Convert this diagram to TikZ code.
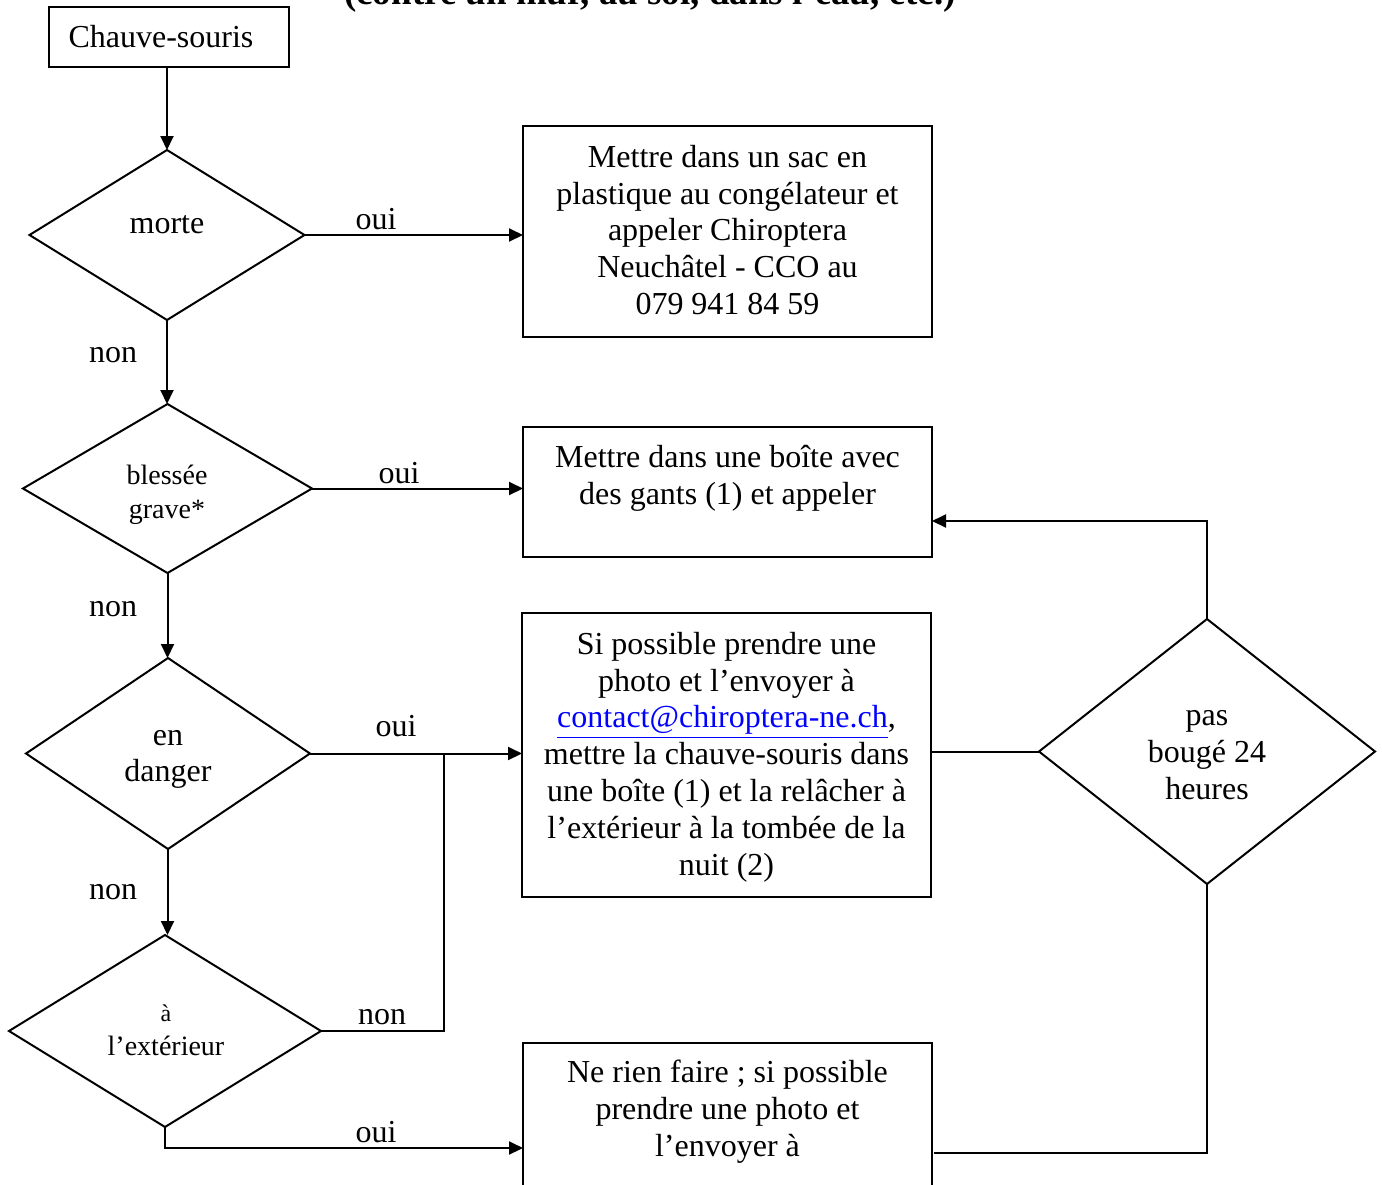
\documentclass[tikz,border=0pt]{standalone}
\usepackage{fontspec}
\setmainfont{Liberation Serif}
\usetikzlibrary{shapes.geometric,arrows.meta,calc}
\tikzset{
  ln/.style={line width=1pt,draw=black},
  arr/.style={ln,-{Triangle[length=7pt,width=6.5pt]}},
  dia/.style={diamond,draw=black,line width=1pt,inner sep=0pt,outer sep=0pt},
  box/.style={rectangle,draw=black,line width=1pt,inner sep=0pt,outer sep=0pt,minimum width=204.5pt},
  txt/.style={align=center,inner sep=0pt,font=\fontsize{16pt}{18.4pt}\selectfont},
  stxt/.style={align=center,inner sep=0pt,font=\fontsize{14pt}{17pt}\selectfont},
  lbl/.style={inner sep=0pt,font=\fontsize{16pt}{18.4pt}\selectfont}
}
\begin{document}
\begin{tikzpicture}[x=0.5pt,y=-0.5pt]
\useasboundingbox (0,0) rectangle (1382,1184);
\clip (0,0) rectangle (1382,1184);
\node[anchor=base,inner sep=0pt,font=\fontsize{18.5pt}{20pt}\selectfont\bfseries] (title) at (650,4) {(contre un mur, au sol, dans l’eau, etc.)};
% start
\node[box,minimum width=120pt,minimum height=30pt] (start) at (169,37) {};
\node[txt] (startt) at (161,37) {Chauve-souris};
% diamonds
\node[dia,minimum width=137.5pt,minimum height=85pt] (d1) at (167,235) {};
\node[txt] (d1t) at (167,225) {morte};
\node[dia,minimum width=144.5pt,minimum height=84.5pt] (d2) at (167.5,488.5) {};
\node[stxt] (d2t) at (167,495) {blessée\\grave*};
\node[dia,minimum width=142pt,minimum height=95.5pt] (d3) at (168,753.5) {};
\node[txt,font=\fontsize{16pt}{18pt}\selectfont] (d3t) at (168,759) {en\\danger};
\node[dia,minimum width=156pt,minimum height=96pt] (d4) at (165,1031) {};
\node[stxt] (d4t) at (166,1030) {\fontsize{12pt}{17pt}\selectfont à\\l’extérieur};
\node[dia,minimum width=168pt,minimum height=132.5pt] (d5) at (1207,751.5) {};
\node[txt] (d5t) at (1207,755) {pas\\bougé 24\\heures};
% boxes
\node[box,minimum height=105.5pt] (b1) at (727.5,231.5) {};
\node[txt] (b1t) at (727.5,230) {Mettre dans un sac en\\plastique au congélateur et\\appeler Chiroptera\\Neuchâtel - CCO au\\079 941 84 59};
\node[box,minimum height=65pt] (b2) at (727.5,492) {};
\node[txt,anchor=north] (b2t) at (727.5,445) {Mettre dans une boîte avec\\des gants (1) et appeler};
\node[box,minimum height=142pt] (b3) at (726.5,755) {};
\node[txt] (b3t) at (726.5,757) {Si possible prendre une\\photo et l’envoyer à\\\textcolor{blue}{\underline{contact@chiroptera-ne.ch}},\\mettre la chauve-souris dans\\une boîte (1) et la relâcher à\\l’extérieur à la tombée de la\\nuit (2)};
\node[box,minimum height=83.5pt] (b4) at (727.5,1126.5) {};
\node[txt,anchor=north] (b4t) at (727.5,1060) {Ne rien faire ; si possible\\prendre une photo et\\l’envoyer à};
% coordinates
\coordinate (b2in) at (932,521);
\coordinate (b4r) at (934,1153);
\coordinate (j1) at (444,755);
\coordinate (b4in) at (523,1148);
% connectors
\draw[arr] (d1.north |- start.south) -- (d1.north);
\draw[arr] (d1.east) -- (b1.west |- d1.east);
\draw[arr] (d1.south) -- (d1.south |- d2.north);
\draw[arr] (d2.east) -- (b2.west |- d2.east);
\draw[arr] (d2.south) -- (d2.south |- d3.north);
\draw[arr] (d3.east) -- (b3.west |- d3.east);
\draw[arr] (d2.south |- d3.south) -- (d2.south |- d4.north);
\draw[ln] (d4.east) -| (j1);
\draw[arr] (d4.south) |- (b4in);
\draw[ln] (b3.east |- d5.west) -- (d5.west);
\draw[arr] (d5.north) |- (b2in);
\draw[ln] (d5.south) |- (b4r);
% labels
\node[lbl] (l1) at (376,219) {oui};
\node[lbl] (l2) at (113,355) {non};
\node[lbl] (l3) at (399,473) {oui};
\node[lbl] (l4) at (113,609) {non};
\node[lbl] (l5) at (396,726) {oui};
\node[lbl] (l6) at (113,892) {non};
\node[lbl] (l7) at (382,1017) {non};
\node[lbl] (l8) at (376,1132) {oui};
\end{tikzpicture}
\end{document}
